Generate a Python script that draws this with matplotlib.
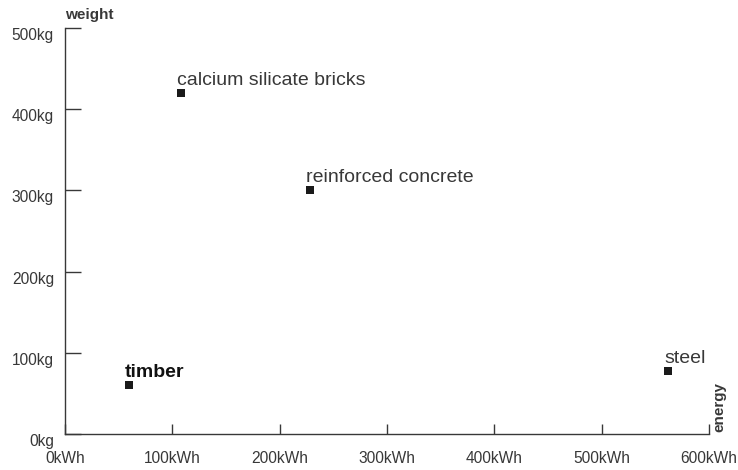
import numpy as np
import matplotlib.pyplot as plt

plt.rcParams['font.family'] = ['Liberation Sans', 'DejaVu Sans']

# data
materials = ['timber', 'calcium silicate bricks', 'reinforced concrete', 'steel']
energy = [60, 108, 228, 562]     # kWh
weight = [60, 420, 300, 77]      # kg
bold = [True, False, False, False]

xticks = [0, 100, 200, 300, 400, 500, 600]
yticks = [0, 100, 200, 300, 400, 500]

ink = '#383838'

fig = plt.figure(figsize=(7.38, 4.70), dpi=100)
ax = fig.add_axes([65 / 738, 36 / 470, 644 / 738, 406 / 470])

ax.plot(energy, weight, ls='none', marker='s', markersize=5.6,
        markeredgewidth=0, color='#1a1a1a')

for name, x, y, b in zip(materials, energy, weight, bold):
    ax.annotate(name, (x, y), xytext=(-3, 3), textcoords='offset points',
                ha='left', va='bottom', fontsize=14,
                fontweight='bold' if b else 'normal',
                color='#111111' if b else ink)

ax.set_xlim(0, 600)
ax.set_ylim(0, 500)
ax.set_xticks(xticks)
ax.set_xticklabels([f'{v}kWh' for v in xticks])
ax.set_yticks(yticks)
ax.set_yticklabels([f'{v}kg' for v in yticks], va='top')

for s in ['top', 'right']:
    ax.spines[s].set_visible(False)
for s in ['left', 'bottom']:
    ax.spines[s].set_color(ink)
    ax.spines[s].set_linewidth(1)

ax.tick_params(axis='x', direction='in', length=7, width=1, color=ink,
               labelsize=11.2, labelcolor=ink, pad=12)
ax.tick_params(axis='y', direction='in', length=11.5, width=1, color=ink,
               labelsize=11.2, labelcolor=ink, pad=8)

ax.text(0, 1.015, 'weight', transform=ax.transAxes, ha='left', va='bottom',
        fontsize=11, fontweight='bold', color=ink)
ax.text(1.005, 0.005, 'energy', transform=ax.transAxes, rotation=90,
        ha='left', va='bottom', fontsize=11, fontweight='bold', color=ink)

fig.savefig('out.png', dpi=100)
